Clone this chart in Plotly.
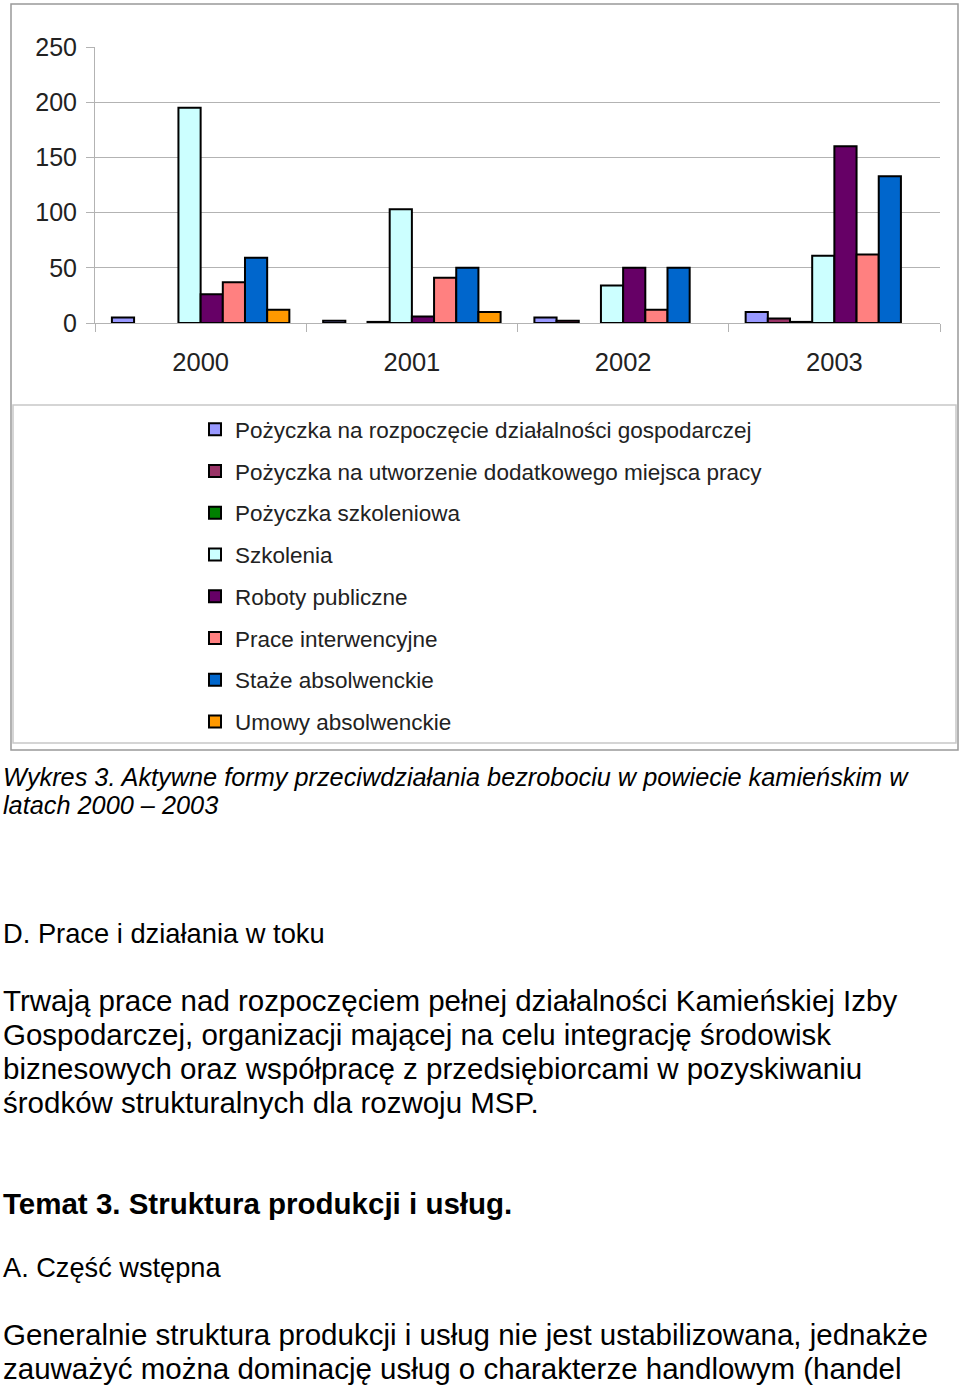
import plotly.graph_objects as go

# Data
years = ["2000", "2001", "2002", "2003"]
series_names = [
    "Pożyczka na rozpoczęcie działalności gospodarczej",
    "Pożyczka na utworzenie dodatkowego miejsca pracy",
    "Pożyczka szkoleniowa",
    "Szkolenia",
    "Roboty publiczne",
    "Prace interwencyjne",
    "Staże absolwenckie",
    "Umowy absolwenckie",
]
pozyczka_rozpoczecie = [5, 2, 5, 10]
pozyczka_miejsce = [None, None, 2, 4]
pozyczka_szkoleniowa = [None, 1, None, 1]
szkolenia = [195, 103, 34, 61]
roboty_publiczne = [26, 6, 50, 160]
prace_interwencyjne = [37, 41, 12, 62]
staze = [59, 50, 50, 133]
umowy = [12, 10, None, None]
series_values = [pozyczka_rozpoczecie, pozyczka_miejsce, pozyczka_szkoleniowa, szkolenia,
                 roboty_publiczne, prace_interwencyjne, staze, umowy]
colors = ["#9999ff", "#993366", "#008000", "#ccffff", "#660066", "#ff8080", "#0066cc", "#ff9900"]
y_ticks = [0, 50, 100, 150, 200, 250]

caption_lines = [
    "Wykres 3. Aktywne formy przeciwdziałania bezrobociu w powiecie kamieńskim w",
    "latach 2000 – 2003",
]
body = [
    "Trwają prace nad rozpoczęciem pełnej działalności Kamieńskiej Izby",
    "Gospodarczej, organizacji mającej na celu integrację środowisk",
    "biznesowych oraz współpracę z przedsiębiorcami w pozyskiwaniu",
    "środków strukturalnych dla rozwoju MSP.",
]

W, H = 960, 1385
L, R, T, B = 95, 940, 47, 323  # plot area in pixels


def px(x):
    return (x - L) / (R - L)


def py(y):
    return (B - y) / (B - T)


fig = go.Figure()
for name, vals, col in zip(series_names, series_values, colors):
    fig.add_trace(go.Bar(
        x=years, y=vals, name=name, legendgroup=name,
        marker=dict(color=col, line=dict(color="black", width=2)),
    ))

# frames around chart and legend
shapes = [
    dict(type="rect", xref="paper", yref="paper", x0=px(11), x1=px(958), y0=py(750), y1=py(4),
         line=dict(color="#999999", width=1.5), layer="below"),
    dict(type="rect", xref="paper", yref="paper", x0=px(13), x1=px(956), y0=py(743), y1=py(405),
         line=dict(color="#c8c8c8", width=1.5), layer="below"),
]

annotations = []


def add_text(text, y, size, italic=False, bold=False):
    if bold:
        text = "<b>" + text + "</b>"
    annotations.append(dict(
        text=text, xref="paper", yref="paper", x=px(1), y=py(y),
        xanchor="left", yanchor="middle", showarrow=False,
        font=dict(family="Liberation Sans, Arial", size=size, color="black",
                  style="italic" if italic else "normal"),
    ))


add_text(caption_lines[0], 777, 25.3, italic=True)
add_text(caption_lines[1], 805, 25.3, italic=True)
add_text("D. Prace i działania w toku", 933, 27.3)
for i, line in enumerate(body):
    add_text(line, 1000 + 34 * i, 29.5)
add_text("Temat 3. Struktura produkcji i usług.", 1203, 29.5, bold=True)
add_text("A. Część wstępna", 1267, 27.2)
add_text("Generalnie struktura produkcji i usług nie jest ustabilizowana, jednakże", 1335, 29.5)
add_text("zauważyć można dominację usług o charakterze handlowym (handel", 1369, 29.5)

fig.update_layout(
    width=W, height=H,
    margin=dict(l=L, r=W - R, t=T, b=H - B),
    paper_bgcolor="white", plot_bgcolor="white",
    font=dict(family="Liberation Sans, Arial", color="#222222"),
    barmode="group", bargap=0.16, bargroupgap=0,
    showlegend=True,
    legend=dict(x=px(195), y=py(408), xanchor="left", yanchor="top",
                font=dict(size=22.5, color="#222222"), tracegroupgap=9.5,
                bgcolor="rgba(0,0,0,0)"),
    shapes=shapes,
    annotations=annotations,
)
fig.update_yaxes(
    range=[0, 250], tickvals=y_ticks, showgrid=True, gridcolor="#b3b3b3", gridwidth=1,
    zeroline=False, showline=True, linecolor="#b3b3b3", linewidth=1,
    ticks="outside", ticklen=8, tickcolor="#b3b3b3", tickfont=dict(size=25, color="#222222"),
    ticklabelstandoff=4,
)
fig.update_xaxes(
    showline=True, linecolor="#b3b3b3", linewidth=1, tickson="boundaries",
    ticks="outside", ticklen=8, tickcolor="#b3b3b3", tickfont=dict(size=25.5, color="#222222"),
    ticklabelstandoff=16,
)

# drop the page's default body margin so the figure fills the window
fig.write_html("out.html", config={"displayModeBar": False},
               post_script="document.body.style.margin='0';")
